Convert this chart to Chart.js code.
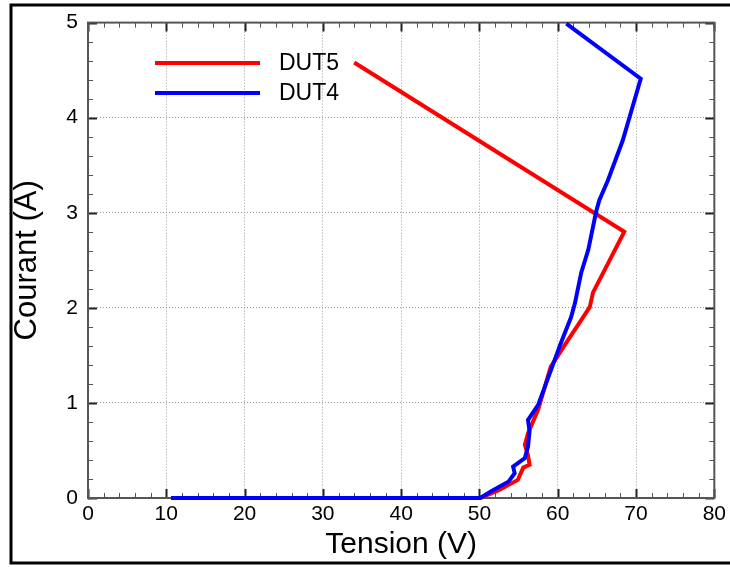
<!DOCTYPE html>
<html>
<head>
<meta charset="utf-8">
<title>Courant vs Tension</title>
<script src="https://cdn.jsdelivr.net/npm/chart.js@4.4.1/dist/chart.umd.min.js"></script>
<style>
    html, body { margin: 0; padding: 0; background: #fff; }
    #wrap { width: 730px; height: 567px; }
</style>
</head>
<body>
<div id="wrap"><canvas id="chart" width="730" height="567"></canvas></div>
<script>
const seriesLabels = ['DUT5', 'DUT4'];
const seriesColors = ['#ff0000', '#0000ff'];

// DUT5 (rouge)
const dut5Tension = [11.1, 50.1, 52.4, 54.9, 55.6, 56.4, 56.2, 55.8, 56.2, 57.5, 59.1, 61.3, 63.0, 64.1, 64.5, 66.0, 68.5, 34.0];
const dut5Courant = [0, 0, 0.08, 0.19, 0.32, 0.35, 0.45, 0.56, 0.68, 0.93, 1.38, 1.66, 1.87, 2.01, 2.16, 2.40, 2.80, 4.58];

// DUT4 (bleu)
const dut4Tension = [10.6, 50.1, 51.5, 53.7, 54.5, 54.3, 55.8, 56.2, 56.4, 56.2, 57.5, 59.6, 60.4, 61.7, 62.2, 63.0, 63.9, 64.9, 65.3, 66.4, 68.3, 70.6, 61.1];
const dut4Courant = [0, 0, 0.07, 0.17, 0.26, 0.33, 0.42, 0.54, 0.70, 0.82, 0.98, 1.45, 1.63, 1.90, 2.05, 2.37, 2.61, 3.01, 3.13, 3.34, 3.76, 4.41, 4.99];

const xMin = 0, xMax = 80, xStep = 10, xMinor = 2;
const yMin = 0, yMax = 5, yStep = 1, yMinor = 0.2;

const fontFamily = '"Liberation Sans", Arial, sans-serif';

const toPoints = (xs, ys) => xs.map((x, i) => ({ x, y: ys[i] }));

const isMajor = (v, step) => Math.abs(v / step - Math.round(v / step)) < 1e-6;

const axisBox = {
    id: 'axisBox',
    beforeDatasetsDraw(chart) {
        const { ctx, chartArea, scales } = chart;
        const { left, right, top, bottom } = chartArea;
        ctx.save();

        // graduations sur les 4 côtés, tournées vers l'intérieur
        for (let v = xMin; v <= xMax + 1e-9; v += xMinor) {
            const px = Math.round(scales.x.getPixelForValue(v)) + 0.5;
            const major = isMajor(v, xStep);
            const len = major ? 9 : 5;
            ctx.strokeStyle = major ? '#222' : '#555';
            ctx.lineWidth = major ? 2 : 1;
            ctx.beginPath();
            ctx.moveTo(px, bottom);
            ctx.lineTo(px, bottom - len);
            ctx.moveTo(px, top);
            ctx.lineTo(px, top + len);
            ctx.stroke();
        }
        for (let v = yMin; v <= yMax + 1e-9; v += yMinor) {
            const py = Math.round(scales.y.getPixelForValue(v)) + 0.5;
            const major = isMajor(v, yStep);
            const len = major ? 9 : 5;
            ctx.strokeStyle = major ? '#222' : '#555';
            ctx.lineWidth = major ? 2 : 1;
            ctx.beginPath();
            ctx.moveTo(left, py);
            ctx.lineTo(left + len, py);
            ctx.moveTo(right, py);
            ctx.lineTo(right - len, py);
            ctx.stroke();
        }

        ctx.strokeStyle = '#555';
        ctx.lineWidth = 2;
        ctx.strokeRect(left, top, right - left, bottom - top);
        ctx.restore();
    },
    afterDraw(chart) {
        const { ctx } = chart;
        ctx.save();

        // légende
        chart.data.datasets.forEach((dataset, i) => {
            const y = 63 + i * 30;
            ctx.strokeStyle = dataset.borderColor;
            ctx.lineWidth = 4;
            ctx.beginPath();
            ctx.moveTo(155, y);
            ctx.lineTo(260, y);
            ctx.stroke();
            ctx.fillStyle = '#000';
            ctx.font = `23px ${fontFamily}`;
            ctx.textBaseline = 'middle';
            ctx.fillText(dataset.label, 279, y + 1);
        });

        // cadre noir
        ctx.strokeStyle = '#000';
        ctx.lineWidth = 3;
        ctx.beginPath();
        ctx.moveTo(730, 5);
        ctx.lineTo(11, 5);
        ctx.lineTo(11, 563);
        ctx.lineTo(730, 563);
        ctx.stroke();
        ctx.restore();
    },
};

const makeDataset = (label, color, points, order) => ({
    label,
    data: points,
    borderColor: color,
    backgroundColor: color,
    borderWidth: 4,
    pointRadius: 0,
    showLine: true,
    tension: 0,
    clip: 4,
    order,
});

new Chart(document.getElementById('chart'), {
    type: 'scatter',
    data: {
        datasets: [
            makeDataset(seriesLabels[0], seriesColors[0], toPoints(dut5Tension, dut5Courant), 2),
            makeDataset(seriesLabels[1], seriesColors[1], toPoints(dut4Tension, dut4Courant), 1),
        ],
    },
    options: {
        responsive: false,
        animation: false,
        devicePixelRatio: 1,
        layout: { padding: { left: 0, top: 22, right: 13, bottom: 0 } },
        plugins: { legend: { display: false }, tooltip: { enabled: false } },
        scales: {
            x: {
                type: 'linear',
                min: xMin,
                max: xMax,
                afterFit: (scale) => { scale.height = 69; },
                ticks: {
                    stepSize: xStep,
                    padding: 4,
                    color: '#000',
                    maxRotation: 0,
                    font: { family: fontFamily, size: 21 },
                },
                grid: { color: '#9a9a9a', lineWidth: 1, drawTicks: false },
                border: { display: false, dash: [1, 2] },
                title: {
                    display: true,
                    text: 'Tension (V)',
                    color: '#000',
                    padding: { top: 0, bottom: 4 },
                    font: { family: fontFamily, size: 30 },
                },
            },
            y: {
                type: 'linear',
                min: yMin,
                max: yMax,
                afterFit: (scale) => { scale.width = 88; },
                ticks: {
                    stepSize: yStep,
                    padding: 10,
                    color: '#000',
                    font: { family: fontFamily, size: 21 },
                },
                grid: { color: '#9a9a9a', lineWidth: 1, drawTicks: false },
                border: { display: false, dash: [1, 2] },
                title: {
                    display: true,
                    text: 'Courant (A)',
                    color: '#000',
                    padding: { top: 9, bottom: 0 },
                    font: { family: fontFamily, size: 31 },
                },
            },
        },
    },
    plugins: [axisBox],
});
</script>
</body>
</html>
